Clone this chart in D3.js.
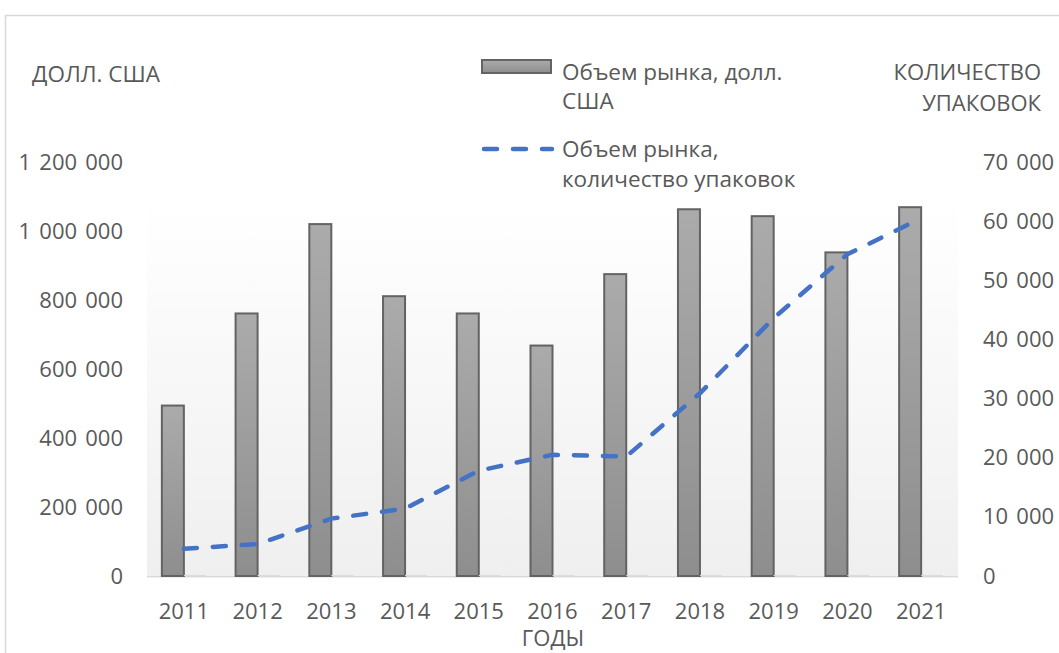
<!DOCTYPE html>
<html>
<head>
<meta charset="utf-8">
<script src="https://cdn.jsdelivr.net/npm/d3@7"></script>
<style>
  body { margin: 0; background: #fff; }
  text { font-family: "Open Sans", sans-serif; fill: #595959; }
</style>
</head>
<body>
<svg id="chart" width="1059" height="653"></svg>
<script>
// data
var years = ["2011", "2012", "2013", "2014", "2015", "2016", "2017", "2018", "2019", "2020", "2021"];
var marketUsd = [494000, 761000, 1020000, 811000, 761000, 668000, 875000, 1063000, 1043000, 938000, 1069000];
var marketPacks = [4600, 5400, 9700, 11400, 17800, 20500, 20200, 30900, 43600, 54400, 60500];
var smallBars = [3000, 3000, 3000, 3000, 3000, 3000, 3000, 3000, 3000, 3000, 3000];
var leftTicks = [0, 200000, 400000, 600000, 800000, 1000000, 1200000];
var rightTicks = [0, 10000, 20000, 30000, 40000, 50000, 60000, 70000];

var svg = d3.select("#chart"),
    plot = {left: 147, right: 958, top: 162, bottom: 576};

var ru = d3.formatLocale({decimal: ",", thousands: " ", grouping: [3], currency: ["", ""]});
var fmt = ru.format(",d");

var x = d3.scaleBand().domain(years).range([plot.left, plot.right]),
    yL = d3.scaleLinear().domain([0, 1200000]).range([plot.bottom, plot.top]),
    yR = d3.scaleLinear().domain([0, 70000]).range([plot.bottom, plot.top]);

var barW = 22;

// chart frame
svg.append("path")
    .attr("d", "M5.5,653V15.5H1059")
    .attr("fill", "none")
    .attr("stroke", "#d9d9d9")
    .attr("stroke-width", 1.5);

// plot area fill
var defs = svg.append("defs");
var pg = defs.append("linearGradient").attr("id", "plotfill").attr("x1", 0).attr("y1", 0).attr("x2", 0).attr("y2", 1);
pg.append("stop").attr("offset", "0%").attr("stop-color", "#ffffff");
pg.append("stop").attr("offset", "100%").attr("stop-color", "#efefef");
var bg = defs.append("linearGradient").attr("id", "barfill").attr("x1", 0).attr("y1", 0).attr("x2", 0).attr("y2", 1);
bg.append("stop").attr("offset", "0%").attr("stop-color", "#ababab");
bg.append("stop").attr("offset", "100%").attr("stop-color", "#8e8e8e");

svg.append("rect")
    .attr("x", plot.left)
    .attr("y", 205)
    .attr("width", plot.right - plot.left)
    .attr("height", plot.bottom - 205 + 2)
    .attr("fill", "url(#plotfill)");

svg.append("line")
    .attr("x1", plot.left).attr("x2", plot.right)
    .attr("y1", plot.bottom + 0.5).attr("y2", plot.bottom + 0.5)
    .attr("stroke", "#d9d9d9");

// bars
svg.selectAll(".bar")
  .data(years)
  .enter().append("rect")
    .attr("class", "bar")
    .attr("x", function(d) { return x(d) + x.bandwidth() / 2 - barW; })
    .attr("y", function(d, i) { return yL(marketUsd[i]); })
    .attr("width", barW)
    .attr("height", function(d, i) { return plot.bottom - yL(marketUsd[i]); })
    .attr("fill", "url(#barfill)")
    .attr("stroke", "#636363")
    .attr("stroke-width", 2);

svg.selectAll(".small")
  .data(years)
  .enter().append("rect")
    .attr("class", "small")
    .attr("x", function(d) { return x(d) + x.bandwidth() / 2; })
    .attr("y", function(d, i) { return yL(smallBars[i]); })
    .attr("width", barW)
    .attr("height", function(d, i) { return plot.bottom - yL(smallBars[i]); })
    .attr("fill", "#dcdcdc");

// line
var line = d3.line()
    .x(function(d, i) { return x(years[i]) + x.bandwidth() / 2; })
    .y(function(d) { return yR(d); });

svg.append("path")
    .datum(marketPacks)
    .attr("d", line)
    .attr("fill", "none")
    .attr("stroke", "#4472c4")
    .attr("stroke-width", 4.5)
    .attr("stroke-linecap", "round")
    .attr("stroke-dasharray", "13,16");

// axes
var gl = svg.append("g")
    .attr("transform", "translate(130,0)")
    .call(d3.axisLeft(yL).tickValues(leftTicks).tickSize(0).tickPadding(7).tickFormat(fmt));
var gr = svg.append("g")
    .attr("transform", "translate(976,0)")
    .call(d3.axisRight(yR).tickValues(rightTicks).tickSize(0).tickPadding(7).tickFormat(fmt));
var gb = svg.append("g")
    .attr("transform", "translate(0," + plot.bottom + ")")
    .call(d3.axisBottom(x).tickSize(0).tickPadding(27));

[gl, gr, gb].forEach(function(g) {
  g.select(".domain").remove();
  g.selectAll("text")
      .style("font-family", "'Open Sans', sans-serif")
      .style("font-size", "22px")
      .style("word-spacing", "2.5px")
      .attr("fill", "#595959");
});

// axis titles
svg.append("text").attr("x", 32).attr("y", 82).style("font-size", "22.5px").text("ДОЛЛ. США");
svg.append("text").attr("x", 1041).attr("y", 80).attr("text-anchor", "end").style("font-size", "22px").text("КОЛИЧЕСТВО");
svg.append("text").attr("x", 1041).attr("y", 111).attr("text-anchor", "end").style("font-size", "22px").text("УПАКОВОК");
svg.append("text").attr("x", 553).attr("y", 646).attr("text-anchor", "middle").style("font-size", "22px").text("ГОДЫ");

// legend
var lg = svg.append("g");
lg.append("rect")
    .attr("x", 482).attr("y", 60).attr("width", 69).attr("height", 13)
    .attr("fill", "url(#barfill)").attr("stroke", "#636363").attr("stroke-width", 2);
lg.append("text").attr("x", 562).attr("y", 80).style("font-size", "22.5px").text("Объем рынка, долл.");
lg.append("text").attr("x", 562).attr("y", 109).style("font-size", "22.5px").text("США");
lg.append("line")
    .attr("x1", 484).attr("x2", 552).attr("y1", 149).attr("y2", 149)
    .attr("stroke", "#4472c4").attr("stroke-width", 4.5)
    .attr("stroke-linecap", "round").attr("stroke-dasharray", "13,16");
lg.append("text").attr("x", 562).attr("y", 157).style("font-size", "22.5px").text("Объем рынка,");
lg.append("text").attr("x", 562).attr("y", 187).style("font-size", "22.5px").text("количество упаковок");
</script>
</body>
</html>
